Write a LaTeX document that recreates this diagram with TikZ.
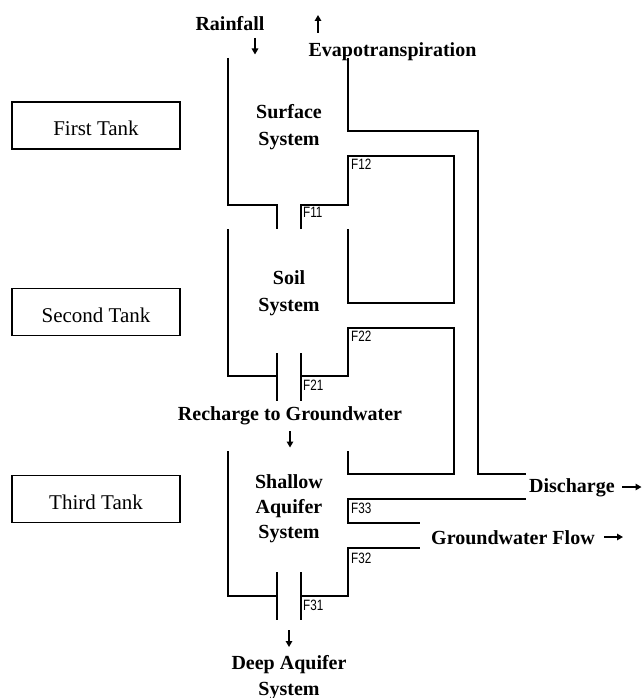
\documentclass[tikz,border=0pt]{standalone}
\usepackage{fontspec}
\setmainfont{Liberation Serif}
\newfontfamily\flabfont[FakeStretch=0.78]{Liberation Sans}
\usetikzlibrary{arrows.meta}
\begin{document}
\begin{tikzpicture}[x=1pt,y=-1pt,
  wall/.style={line width=2.3pt, line join=miter},
  lbl/.style={font=\fontsize{20}{25}\selectfont\bfseries, inner sep=0pt, anchor=base},
  tankbox/.style={draw, line width=1.7pt, minimum width=168pt, minimum height=47pt,
    font=\fontsize{21}{25}\selectfont, inner sep=0pt, text height=20pt, text depth=0pt},
  flab/.style={font=\flabfont\fontsize{15}{15}\selectfont, anchor=north west, inner sep=0pt},
  arr/.style={line width=1.4pt, -{Triangle[length=6pt,width=6.5pt]}}
]
\useasboundingbox (0,0) rectangle (642,698);

% tank labels
\node[tankbox] (t1) at (96,125.3) {First Tank};
\node[tankbox] (t2) at (96,312) {Second Tank};
\node[tankbox] (t3) at (96,499) {Third Tank};

% texts
\node[lbl] (rain) at (230,31) {Rainfall};
\node[lbl] (evap) at (392.5,56.5) {Evapotranspiration};
\node[lbl] (surf1) at (289,118.5) {Surface};
\node[lbl] (surf2) at (289,145) {System};
\node[lbl] (soil1) at (289,284.5) {Soil};
\node[lbl] (soil2) at (289,311) {System};
\node[lbl] (rech) at (290,420.5) {Recharge to Groundwater};
\node[lbl] (sh1) at (289,488) {Shallow};
\node[lbl] (sh2) at (289,513.5) {Aquifer};
\node[lbl] (sh3) at (289,538.5) {System};
\node[lbl] (deep1) at (289,669.5) {Deep Aquifer};
\node[lbl] (deep2) at (289,695) {System};
\node[lbl, anchor=base west] (dis) at (529,492.5) {Discharge};
\node[lbl, anchor=base west] (gwf) at (431,544) {Groundwater Flow};

% F labels
\node[flab] (f12) at (351,158.5) {F12};
\node[flab] (f11) at (303,206.5) {F11};
\node[flab] (f22) at (351,330.5) {F22};
\node[flab] (f21) at (303,379.5) {F21};
\node[flab] (f33) at (351,502.5) {F33};
\node[flab] (f32) at (351,552.5) {F32};
\node[flab] (f31) at (303,599.5) {F31};

% arrows
\coordinate (ra1) at (255,38);  \coordinate (ra2) at (255,54.5);
\coordinate (ea1) at (318,33);  \coordinate (ea2) at (318,15);
\coordinate (rc1) at (290,431); \coordinate (rc2) at (290,447.5);
\coordinate (dp1) at (289,630); \coordinate (dp2) at (289,647);
\coordinate (da1) at (622,487); \coordinate (da2) at (641.5,487);
\coordinate (ga1) at (604,537); \coordinate (ga2) at (623,537);
\draw[arr] (ra1) -- (ra2);
\draw[arr] (ea1) -- (ea2);
\draw[arr] (rc1) -- (rc2);
\draw[arr] (dp1) -- (dp2);
\draw[arr] (da1) -- (da2);
\draw[arr] (ga1) -- (ga2);

% surface system
\draw[wall] (228,58) -- (228,205) -- (277,205) -- (277,229);
\draw[wall] (301,229) -- (301,205) -- (348,205) -- (348,156) -- (454,156)
  -- (454,303) -- (348,303) -- (348,229);
% evapotranspiration / discharge line
\draw[wall] (348,58) -- (348,131) -- (478,131) -- (478,474) -- (526,474);

% soil system
\draw[wall] (228,229) -- (228,376) -- (277,376);
\draw[wall] (277,353) -- (277,401);
\draw[wall] (301,353) -- (301,401);
\draw[wall] (301,376) -- (348,376) -- (348,328) -- (454,328) -- (454,474)
  -- (348,474) -- (348,451);

% shallow aquifer system
\draw[wall] (228,451) -- (228,596) -- (277,596);
\draw[wall] (277,572) -- (277,620);
\draw[wall] (301,572) -- (301,620);
\draw[wall] (301,596) -- (348,596) -- (348,548) -- (420,548);
\draw[wall] (526,499) -- (348,499) -- (348,523) -- (420,523);
\end{tikzpicture}
\end{document}
